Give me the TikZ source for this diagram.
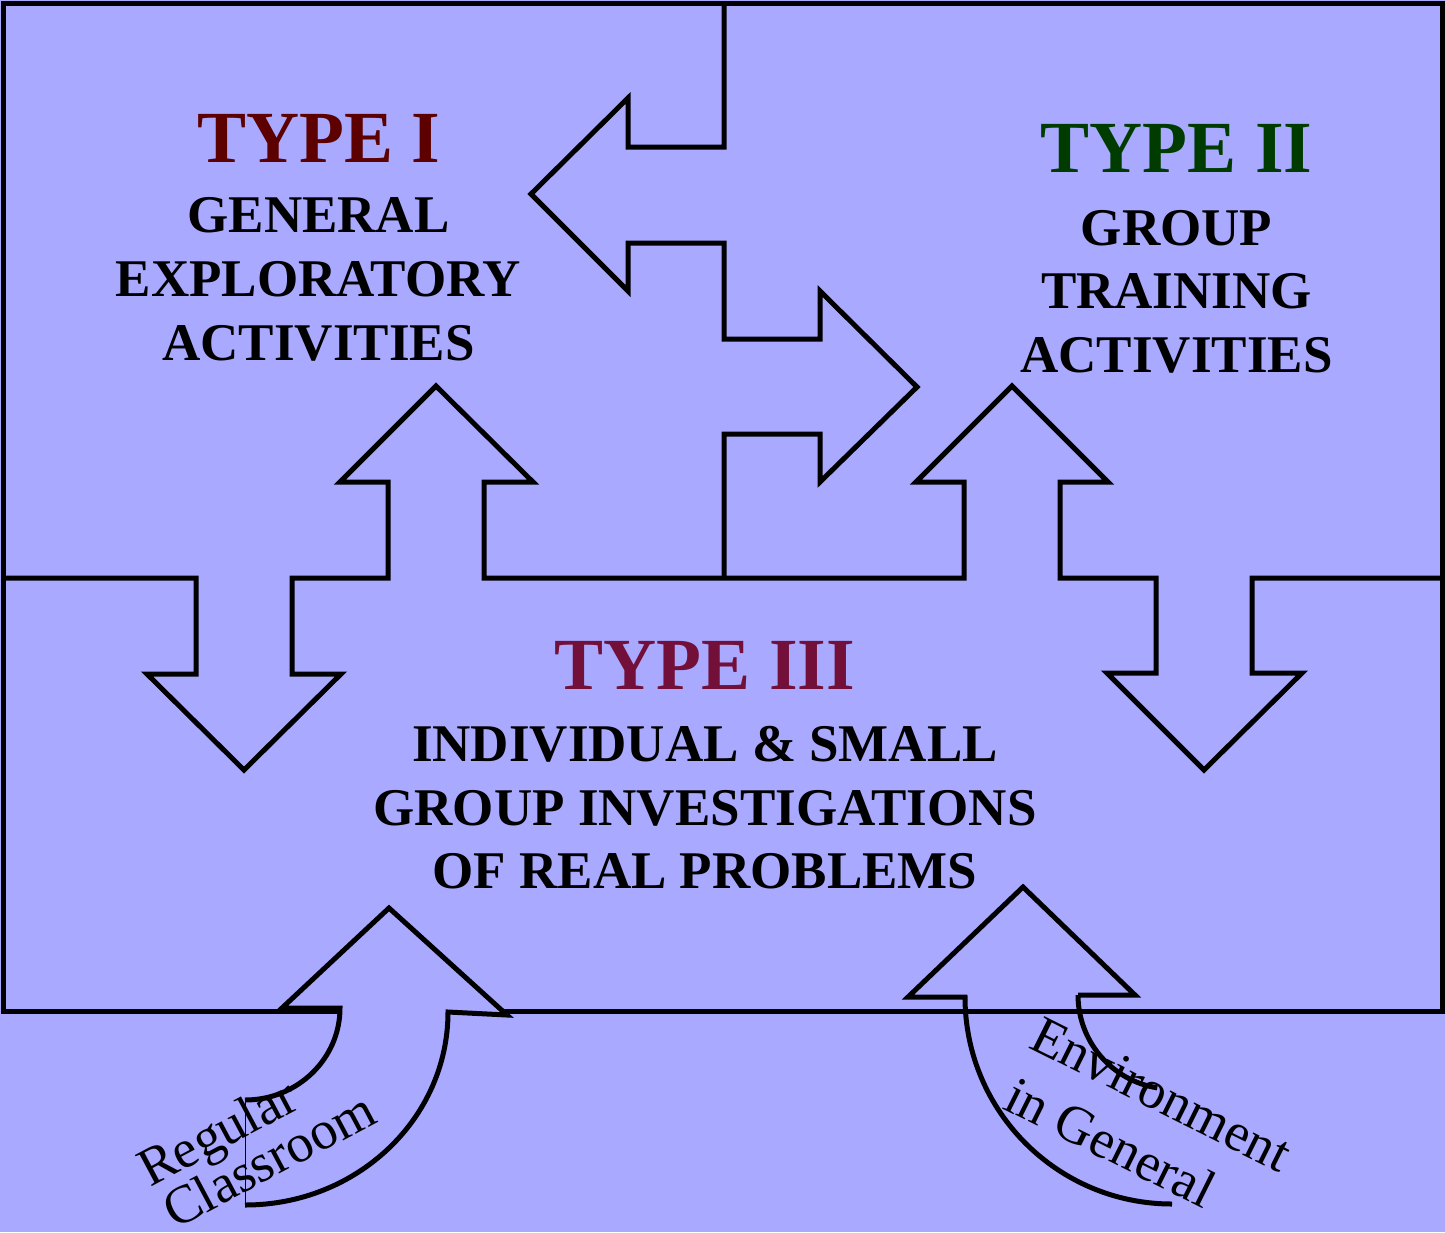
\documentclass[tikz,border=0pt]{standalone}
\usepackage{fontspec}
\setmainfont{Liberation Serif}
\definecolor{bg}{RGB}{169,170,255}
\definecolor{typeone}{RGB}{92,0,0}
\definecolor{typetwo}{RGB}{0,60,0}
\definecolor{typethree}{RGB}{115,16,58}
\begin{document}
\begin{tikzpicture}[x=1pt,y=-1pt,
  edge/.style={line width=5pt, line join=miter},
  thinedge/.style={line width=1pt},
  titletext/.style={font=\fontsize{73.5}{80}\selectfont\bfseries, inner sep=0pt, anchor=base},
  bodytext/.style={font=\fontsize{53}{60}\selectfont\bfseries, inner sep=0pt, anchor=base},
  curvelabel/.style={font=\fontsize{54}{58}\selectfont, inner sep=0pt, anchor=base west}]
\fill[bg] (0,0) rectangle (1445,1232);
\useasboundingbox (0,0) rectangle (1445,1232);

% right curved arrow (drawn under the frame)
\fill[bg] (965,997) -- (908,997) -- (1023,887) -- (1135,995) -- (1078,995)
  arc[start angle=180, end angle=99, radius=94] -- (1172,1204)
  arc[start angle=90, end angle=180, radius=207] -- cycle;
\draw[edge] (1078,995) -- (1135,995) -- (1023,887) -- (908,997) -- (965,997)
  arc[start angle=180, end angle=90, radius=207];
\draw[edge] (1078,995) arc[start angle=180, end angle=99, radius=94];

% frame
\draw[edge] (3,3) rectangle (1442,1011);

% boundary Type I / Type II
\draw[edge] (724,3) -- (724,147) -- (628,147) -- (628,98) -- (531,194) -- (628,291)
  -- (628,243) -- (724,243) -- (724,339) -- (820,339) -- (820,291) -- (917,387)
  -- (820,482) -- (820,434) -- (724,434) -- (724,578);
% boundary Type I / Type III
\draw[edge] (3,578) -- (196,578) -- (196,674) -- (147,674) -- (244,770) -- (341,674)
  -- (292,674) -- (292,578) -- (388,578) -- (388,482) -- (340,482) -- (436,386)
  -- (533,482) -- (484,482) -- (484,578) -- (724,578);
% boundary Type II / Type III
\draw[edge] (724,578) -- (964,578) -- (964,482) -- (916,482) -- (1012,386) -- (1108,482)
  -- (1060,482) -- (1060,578) -- (1156,578) -- (1156,673) -- (1107,673) -- (1204,770)
  -- (1302,673) -- (1252,673) -- (1252,578) -- (1442,578);

% left curved arrow (drawn over the frame)
\fill[bg] (340,1008) -- (282,1008) -- (389,908) -- (507,1015) -- (448,1012)
  arc[start angle=0, end angle=90, x radius=203, y radius=193] -- (245,1100)
  arc[start angle=90, end angle=0, x radius=95, y radius=92] -- cycle;
\draw[edge] (245,1100) arc[start angle=90, end angle=0, x radius=95, y radius=92]
  -- (282,1008) -- (389,908) -- (507,1015) -- (448,1012)
  arc[start angle=0, end angle=90, x radius=203, y radius=193];
\draw[thinedge] (245,1205) -- (245,1100);

% texts
\node[titletext, text=typeone] (t1) at (318.5,162) {TYPE I};
\node[bodytext] (t1a) at (318.5,232) {GENERAL};
\node[bodytext] (t1b) at (318.5,296) {EXPLORATORY};
\node[bodytext] (t1c) at (318.5,360) {ACTIVITIES};

\node[titletext, text=typetwo] (t2) at (1176.5,172) {TYPE II};
\node[bodytext] (t2a) at (1176.5,245) {GROUP};
\node[bodytext] (t2b) at (1176.5,308) {TRAINING};
\node[bodytext] (t2c) at (1176.5,372) {ACTIVITIES};

\node[titletext, text=typethree] (t3) at (705,689) {TYPE III};
\node[bodytext] (t3a) at (705,761) {INDIVIDUAL \& SMALL};
\node[bodytext] (t3b) at (705,825) {GROUP INVESTIGATIONS};
\node[bodytext] (t3c) at (705,888) {OF REAL PROBLEMS};

\node[curvelabel, rotate=28] (rc1) at (150,1188) {Regular};
\node[curvelabel, rotate=28] (rc2) at (175,1230) {Classroom};
\node[curvelabel, rotate=-26.5] (eg1) at (1027,1047) {Environment};
\node[curvelabel, rotate=-26.5] (eg2) at (1001,1108) {in General};
\end{tikzpicture}
\end{document}
